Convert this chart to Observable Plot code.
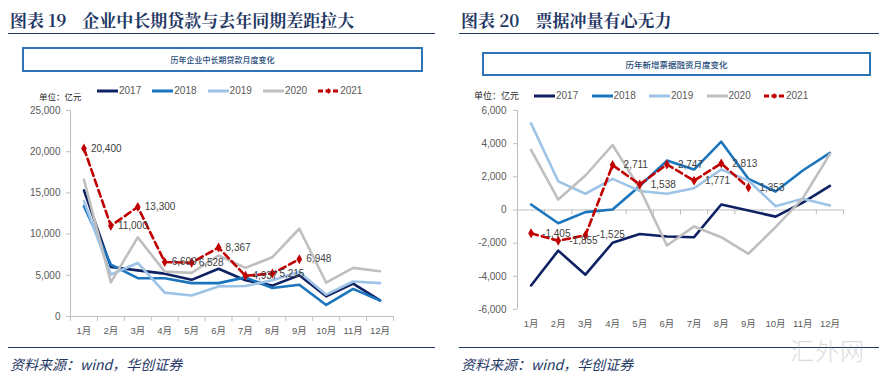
<!DOCTYPE html>
<html><head><meta charset="utf-8">
<script src="https://cdn.jsdelivr.net/npm/d3@7"></script>
<script src="https://cdn.jsdelivr.net/npm/@observablehq/plot@0.6"></script>
<style>
body{margin:0;background:#fff;}
#root{position:relative;width:892px;height:376px;overflow:hidden;background:#fff;font-family:"Noto Sans CJK SC",sans-serif;}
.title{position:absolute;top:8px;font-family:"Noto Serif CJK SC","Noto Sans CJK SC",serif;font-weight:700;font-size:17px;color:#1F3864;line-height:24px;white-space:nowrap;}
.title span{margin-left:16px;}
.rule{position:absolute;height:0;border-top:1.5px solid #1F3864;}
.box{position:absolute;border:2px solid #2E75B6;box-sizing:border-box;display:flex;align-items:center;justify-content:center;color:#1F4E79;font-weight:500;white-space:nowrap;}
.unit{position:absolute;color:#262626;white-space:nowrap;line-height:12px;}
.legend{position:absolute;display:flex;font-family:"Liberation Sans Narrow","Liberation Sans",sans-serif;font-size:10px;color:#595959;line-height:12px;}
.item{display:flex;align-items:center;}
.item svg{display:block;}
.src{position:absolute;top:355px;font-style:italic;font-size:14px;line-height:18px;color:#1F3864;white-space:nowrap;}
.plot{position:absolute;top:100px;}
.wm{position:absolute;color:#9a9a9a;opacity:0.35;white-space:nowrap;line-height:1;}
</style>
</head><body><div id="root"></div>
<script>
// ---------- data ----------
const months = ["1月","2月","3月","4月","5月","6月","7月","8月","9月","10月","11月","12月"];
const years = ["2017","2018","2019","2020","2021"];

// 企业中长期贷款 (亿元)
const loan2017 = [15300, 6000, 5600, 5200, 4450, 5800, 4400, 3750, 5000, 2450, 4000, 1950];
const loan2018 = [13400, 6300, 4650, 4650, 4050, 4050, 4750, 3450, 3850, 1400, 3350, 1950];
const loan2019 = [14000, 5100, 6500, 2900, 2550, 3650, 3700, 4400, 5400, 2650, 4250, 4050];
const loan2020 = [16600, 4150, 9600, 5450, 5300, 7400, 5900, 7200, 10650, 4100, 5900, 5500];
const loan2021 = [20400, 11000, 13300, 6609, 6528, 8367, 4937, 5215, 6948];
const loanTicks = [0, 5000, 10000, 15000, 20000, 25000];

// 新增票据融资 (亿元)
const bill2017 = [-4550, -2450, -3900, -1975, -1450, -1600, -1640, 330, -30, -400, 450, 1450];
const bill2018 = [330, -800, -130, 30, 1450, 2980, 2440, 4120, 1880, 1110, 2380, 3440];
const bill2019 = [5220, 1730, 980, 1880, 1150, 980, 1310, 2440, 1780, 230, 680, 270];
const bill2020 = [3620, 630, 2080, 3920, 1300, -2140, -990, -1640, -2640, -1030, 700, 3380];
const bill2021 = [-1405, -1855, -1525, 2711, 1538, 2747, 1771, 2813, 1353];
const billTicks = [-6000, -4000, -2000, 0, 2000, 4000, 6000];

// ---------- style ----------
const colors = {"2017":"#0E2162","2018":"#1B75BC","2019":"#9DC3E6","2020":"#BFBFBF","2021":"#C00000"};
const numFmt = v => d3.format(",")(v).replace("\u2212","-");
const root = document.getElementById("root");

function el(cls, style, html){
  const d = document.createElement("div");
  d.className = cls; Object.assign(d.style, style); if (html!=null) d.innerHTML = html;
  root.appendChild(d); return d;
}

function swatch(year){
  const c = colors[year];
  if (year === "2021") {
    return `<svg width="21" height="10"><line x1="0" y1="5" x2="21" y2="5" stroke="${c}" stroke-width="3" stroke-dasharray="5,2.5"/><path d="M10.5,2L12.7,5L10.5,8L8.3,5Z" fill="${c}"/></svg>`;
  }
  return `<svg width="21" height="10"><line x1="0" y1="5" x2="21" y2="5" stroke="${c}" stroke-width="3"/></svg>`;
}

function legend(left, top, itemW){
  const lg = el("legend", {left: left+"px", top: top+"px"});
  years.forEach(y => {
    const it = document.createElement("div");
    it.className = "item"; it.style.width = itemW + "px";
    it.innerHTML = swatch(y) + `<span style="margin-left:1px">${y}</span>`;
    lg.appendChild(it);
  });
}

function chart(opts){
  const {series, s2021, ticks, left, marginLeft, marginRight, marginBottom, labelDx, tickPad} = opts;
  const bounds = d3.range(0.5, 13, 1);
  const marks = [];
  const axisColor = "#BFBFBF";
  marks.push(Plot.ruleX([0.5], {stroke: axisColor, strokeWidth: 1}));
  marks.push(Plot.ruleY([0], {stroke: axisColor, strokeWidth: 1}));
  marks.push(Plot.ruleX(bounds, {x: d => d, y1: 0, y2: 0, insetBottom: -5, stroke: axisColor, strokeWidth: 1}));
  marks.push(Plot.axisY({ticks, tickFormat: numFmt, tickSize: 4, tickPadding: tickPad, stroke: axisColor, fill: "#595959", fontSize: 10, label: null}));
  marks.push(Plot.axisX({ticks: d3.range(1, 13), tickFormat: i => months[i-1], tickSize: 0, tickPadding: 11, fill: "#595959", fontSize: 9.5, label: null}));
  years.slice(0, 4).forEach((y, k) => {
    const data = series[k].map((v, i) => ({m: i + 1, v}));
    marks.push(Plot.line(data, {x: "m", y: "v", stroke: colors[y], strokeWidth: 2.6, strokeLinejoin: "round"}));
  });
  const d21 = s2021.map((v, i) => ({m: i + 1, v}));
  marks.push(Plot.line(d21, {x: "m", y: "v", stroke: colors["2021"], strokeWidth: 2.6, strokeDasharray: "7,4"}));
  marks.push(Plot.dot(d21, {x: "m", y: "v", symbol: "diamond", r: 3, fill: colors["2021"], stroke: "none"}));
  marks.push(Plot.text(d21, {x: "m", y: "v", text: d => numFmt(d.v), dx: labelDx, textAnchor: "start", fill: "#404040", fontSize: 10}));
  const svg = Plot.plot({
    width: 446, height: 245,
    marginTop: 10, marginBottom, marginLeft, marginRight,
    x: {domain: [0.5, 12.5], axis: null, label: null},
    y: {domain: [ticks[0], ticks[ticks.length-1]], axis: null, label: null},
    style: {fontFamily: '"Liberation Sans Narrow","Liberation Sans","Noto Sans CJK SC",sans-serif', fontSize: "10px", background: "transparent", overflow: "visible"},
    marks
  });
  const wrap = el("plot", {left: left + "px"});
  wrap.appendChild(svg);
}

// ---------- left panel ----------
el("title", {left: "10px"}, "图表 19<span>企业中长期贷款与去年同期差距拉大</span>");
el("rule", {left: "8px", top: "33px", width: "427px"});
el("box", {left: "22px", top: "47px", width: "401px", height: "25px", fontSize: "8px"}, "历年企业中长期贷款月度变化");
el("unit", {left: "39px", top: "90px", fontSize: "8.5px"}, "单位：亿元");
legend(97, 85, 55.3);
chart({series: [loan2017, loan2018, loan2019, loan2020], s2021: loan2021, ticks: loanTicks,
       left: 0, marginLeft: 70, marginRight: 53, marginBottom: 29, labelDx: 7, tickPad: 6});
el("rule", {left: "8px", top: "347px", width: "427px"});
el("src", {left: "10px"}, "资料来源：wind，华创证券");

// ---------- right panel ----------
el("title", {left: "461px"}, "图表 20<span>票据冲量有心无力</span>");
el("rule", {left: "459px", top: "33px", width: "420px"});
el("box", {left: "482px", top: "52px", width: "389px", height: "24px", fontSize: "8.5px"}, "历年新增票据融资月度变化");
el("unit", {left: "474px", top: "90px", fontSize: "9px"}, "单位：亿元");
legend(534, 90, 57.5);
chart({series: [bill2017, bill2018, bill2019, bill2020], s2021: bill2021, ticks: billTicks,
       left: 446, marginLeft: 71, marginRight: 49, marginBottom: 36, labelDx: 11, tickPad: 7});
el("rule", {left: "459px", top: "347px", width: "420px"});
el("src", {left: "461px"}, "资料来源：wind，华创证券");

// watermark
el("wm", {left: "790px", top: "338px", fontSize: "24px", fontFamily: '"Noto Sans CJK SC",sans-serif', fontWeight: 300, letterSpacing: "1px"}, "汇外网");
</script>
</body></html>
